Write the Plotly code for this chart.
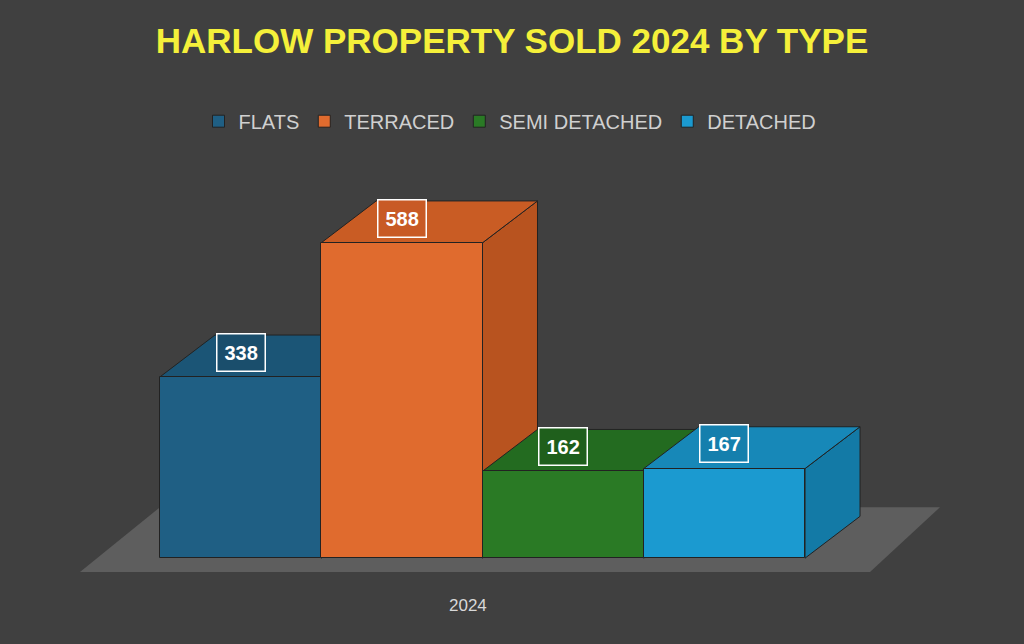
import plotly.graph_objects as go

categories = ["FLATS", "TERRACED", "SEMI DETACHED", "DETACHED"]
values = [338, 588, 162, 167]
year_label = "2024"
front = ["#1f5f84", "#e06b2e", "#2a7a25", "#1b9ad0"]
side = ["#174a68", "#b8531f", "#1e5c1b", "#137aa6"]
top = ["#1b5576", "#c95c24", "#236b20", "#1788b8"]
label_bg = ["#1a4e6c", "#c85a25", "#1f5f1c", "#157fad"]

dx, dy = 0.341, 78
fig = go.Figure()
for i, (c, v) in enumerate(zip(categories, values)):
    fig.add_trace(go.Bar(x=[i], y=[v], width=1, name=c, marker=dict(color=front[i], line=dict(color="#222", width=1))))

shapes = [dict(type="path", layer="below", line=dict(width=0), fillcolor="#5e5e5e",
               path="M -0.996 -26 L 3.903 -26 L 4.337 95 L -0.5 95 Z")]
for i, v in enumerate(values):
    l, r = i - 0.5, i + 0.5
    shapes.append(dict(type="path", layer="below", fillcolor=side[i], line=dict(color="#222", width=1),
                       path=f"M {r} 0 L {r+dx} {dy} L {r+dx} {v+dy} L {r} {v} Z"))
    shapes.append(dict(type="path", layer="below", fillcolor=top[i], line=dict(color="#222", width=1),
                       path=f"M {l} {v} L {r} {v} L {r+dx} {v+dy} L {l+dx} {v+dy} Z"))

ann = [dict(x=i, y=v + 46, text=f"<b>{v}</b>", showarrow=False, font=dict(color="white", size=20, family="Liberation Sans, Arial"),
            bgcolor=label_bg[i], bordercolor="white", borderwidth=1.5, borderpad=7) for i, v in enumerate(values)]
ann.append(dict(x=1.41, y=-0.01, yref="paper", yanchor="top", yshift=11, text=year_label, showarrow=False,
                font=dict(color="#d8d8d8", size=17, family="Liberation Sans, Arial")))

fig.update_layout(
    width=1024, height=644, paper_bgcolor="#404040", plot_bgcolor="#404040",
    margin=dict(l=80, r=84, t=150, b=44), barmode="overlay", bargap=0,
    title=dict(text="<b>HARLOW PROPERTY SOLD 2024 BY TYPE</b>", x=0.5, y=0.937, xanchor="center", yanchor="middle",
               font=dict(color="#f5f03a", size=35, family="Liberation Sans, Arial")),
    legend=dict(orientation="h", x=0.5, xanchor="center", y=1.064, yanchor="middle",
                font=dict(color="#d0d0d0", size=20, family="Liberation Sans, Arial"), traceorder="normal"),
    xaxis=dict(range=[-0.996, 4.337], visible=False, fixedrange=True),
    yaxis=dict(range=[-78, 761], visible=False),
    shapes=shapes, annotations=ann, showlegend=True,
)
fig.write_html("out.html", config={"displayModeBar": False}, post_script="document.body.style.margin='0';")
